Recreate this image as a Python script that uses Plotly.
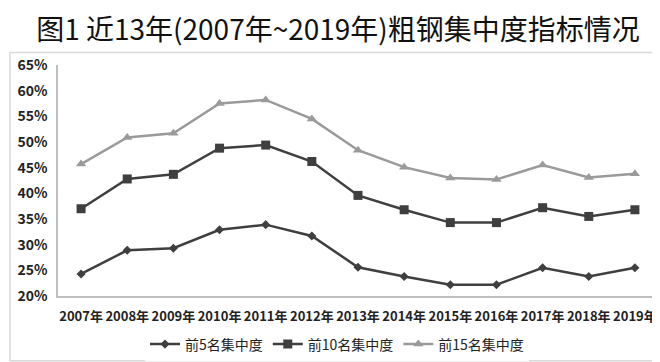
import plotly.graph_objects as go

years = ["2007年", "2008年", "2009年", "2010年", "2011年", "2012年", "2013年",
         "2014年", "2015年", "2016年", "2017年", "2018年", "2019年"]
top5 = [24.3, 28.9, 29.3, 32.9, 33.9, 31.7, 25.6, 23.8, 22.2, 22.2, 25.5, 23.8, 25.5]
top10 = [37.0, 42.8, 43.7, 48.8, 49.4, 46.2, 39.6, 36.8, 34.3, 34.3, 37.2, 35.5, 36.8]
top15 = [45.7, 50.9, 51.7, 57.5, 58.2, 54.5, 48.4, 45.1, 43.0, 42.7, 45.5, 43.1, 43.8]
names = ["前5名集中度", "前10名集中度", "前15名集中度"]
title = "图1 近13年(2007年~2019年)粗钢集中度指标情况"

fig = go.Figure()
specs = [
    (top5, names[0], "diamond", 7, "#3f3f3f"),
    (top10, names[1], "square", 9, "#3f3f3f"),
    (top15, names[2], "triangle-up", 9, "#9a9a9a"),
]
for vals, nm, sym, sz, col in specs:
    fig.add_trace(go.Scatter(
        x=years, y=[v / 100 for v in vals], name=nm, mode="lines+markers",
        line=dict(color=col, width=2.5),
        marker=dict(symbol=sym, size=sz, color=col),
    ))

fig.update_layout(
    width=660, height=362,
    margin=dict(l=50, r=10, t=57, b=67),
    paper_bgcolor="white", plot_bgcolor="white",
    font=dict(family="Liberation Sans Narrow, Noto Sans CJK SC", color="#222222"),
    title=dict(text=title, xref="container", x=0.5, xanchor="center",
               yref="container", y=1 - 22 / 362, yanchor="middle",
               font=dict(family="Noto Sans CJK SC", size=28, color="#111111")),
    showlegend=True,
    legend=dict(orientation="h", xref="paper", x=0.465, xanchor="center",
                y=-0.21, yanchor="middle",
                font=dict(family="Noto Sans CJK SC", size=14, color="#222222"),
                itemwidth=30, tracegroupgap=0),
    shapes=[dict(type="rect", xref="paper", yref="paper",
                 x0=-0.08, x1=1.013, y0=-0.28, y1=1.0546,
                 line=dict(color="#d9d9d9", width=1.5), layer="below")],
)
fig.update_xaxes(type="category", range=[-0.5, 12.5], showgrid=False,
                 showline=True, linecolor="#bfbfbf", linewidth=1.5,
                 ticks="", ticklabelstandoff=8, tickangle=0, automargin=False,
                 tickfont=dict(size=13, weight="bold", color="#222222"))
fig.update_yaxes(range=[0.20, 0.65], dtick=0.05, tickformat=".0%", showgrid=False,
                 showline=True, linecolor="#bfbfbf", linewidth=1.5, zeroline=False,
                 ticks="outside", ticklen=6, tickcolor="rgba(0,0,0,0)",
                 automargin=False,
                 tickfont=dict(size=14, weight="bold", color="#222222"))

fig.write_html("out.html")
